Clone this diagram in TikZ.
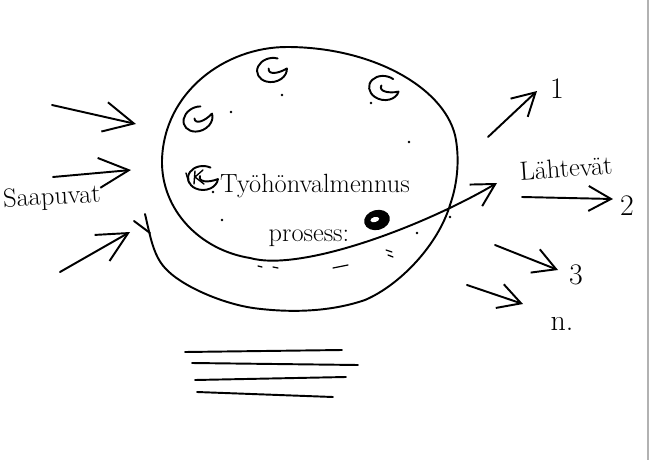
\documentclass[tikz,border=0pt]{standalone}
\usetikzlibrary{arrows.meta}
\begin{document}
\begin{tikzpicture}[x=0.02cm, y=-0.02cm,
    pen/.style={line width=1.1pt, line cap=round, line join=round},
    inflow/.style={pen, -{Straight Barb[length=6mm, width=6mm]}},
    outflow/.style={pen, -{Straight Barb[length=4.5mm, width=5mm]}},
    hand/.style={font=\fontsize{15}{18}\selectfont, inner sep=0pt},
    digit/.style={font=\fontsize{17}{20}\selectfont, inner sep=0pt},
    curl/.pic={
      \draw[pen] (-60:15 and 12)
        arc[start angle=-60, end angle=-355, x radius=15, y radius=12]
        .. controls (5,5) and (-5,4) .. (-3,-2);
    }]

  % Layout in scan pixels (650 x 460), y pointing down.

  \useasboundingbox (0,0) rectangle (650,460);
  % edge of the scanned sheet
  \draw[gray!60, line width=1pt] (648,0) -- (648,460);

  % --- Incoming arrows ---
  \coordinate (in1s) at (52,105);  \coordinate (in1e) at (136,124);
  \coordinate (in2s) at (53,177);  \coordinate (in2e) at (131,170);
  \coordinate (in3s) at (60,272);  \coordinate (in3e) at (130,232);
  \draw[inflow] (in1s) -- (in1e);
  \draw[inflow] (in2s) -- (in2e);
  \draw[inflow] (in3s) -- (in3e);
  \node[hand, rotate=3] (saapuvat) at (52,198) {Saapuvat};

  % --- The process loop ---
  % starts at the tick left of the oval, runs under it, up the right
  % side, over the top, down the left side and out to the right
  \coordinate (loopend) at (497,183);
  \draw[pen] (134,221) -- (150,233);
  \draw[outflow]
    (145,214) .. controls (150,235) and (153,255) .. (165,268)
    .. controls (180,285) and (220,303) .. (253,308)   % bottom
    .. controls (290,313) and (330,312) .. (365,300)
    .. controls (400,285) and (438,245) .. (450,205)   % right side
    .. controls (456,188) and (460,165) .. (456,140)
    .. controls (448,90) and (375,47) .. (287,47)      % top
    .. controls (225,47) and (164,92) .. (162,160)     % left side
    .. controls (161,210) and (200,250) .. (250,258)
    .. controls (300,272) and (420,228) .. (loopend);  % way out

  % workers inside
  \pic[rotate=10]  (g1) at (272,70)  {curl};
  \pic[rotate=-10] (g2) at (384,88)  {curl};
  \pic[rotate=25]  (g3) at (198,119) {curl};
  \pic[rotate=0]   (g4) at (203,178) {curl};
  \draw[pen, line width=0.8pt] (186,173) -- (189,183);
  \draw[pen, line width=0.8pt] (195,171) -- (194,184) (203,170) -- (195,177) -- (204,184);

  % specks
  \foreach \p in {(282,95), (231,112), (371,103), (409,142), (222,220),
                  (417,233), (450,217), (213,192)}
    \fill \p circle (1.3);
  \draw[pen, line width=0.7pt] (258,266) -- (262,267);
  \draw[pen, line width=0.7pt] (273,267) -- (278,268);
  \draw[pen, line width=0.7pt] (333,268) -- (348,265);
  \draw[pen, line width=0.7pt] (386,250) -- (392,252);
  \draw[pen, line width=0.7pt] (388,255) -- (393,257);

  \node[hand] (tyo) at (315,186) {Työhönvalmennus};
  \node[hand] (prosessi) at (309,238) {prosess:};
  \fill[rotate around={15:(377,220)}] (377,220) ellipse [x radius=13, y radius=10];
  \fill[white, rotate around={15:(377,220)}] (375,219) ellipse [x radius=4.5, y radius=2.5];

  % --- Outgoing arrows ---
  \node[hand, rotate=4] (lahtevat) at (566,168) {Lähtevät};
  \coordinate (out1s) at (488,137);  \coordinate (out1e) at (537,91);
  \coordinate (out2s) at (522,197);  \coordinate (out2e) at (613,199);
  \coordinate (out3s) at (495,245);  \coordinate (out3e) at (558,270);
  \coordinate (outns) at (467,285);  \coordinate (outne) at (523,304);
  \draw[outflow] (out1s) -- (out1e);
  \draw[outflow] (out2s) -- (out2e);
  \draw[outflow] (out3s) -- (out3e);
  \draw[outflow] (outns) -- (outne);
  \node[digit] (n1) at (557,89)  {1};
  \node[digit] (n2) at (627,206) {2};
  \node[digit] (n3) at (576,275) {3};
  \node[digit] (nn) at (562,324) {n.};

  % --- Lines below ---
  \draw[pen] (185,352) -- (342,350);
  \draw[pen] (192,363) -- (358,365);
  \draw[pen] (195,380) -- (346,377);
  \draw[pen] (197,392) -- (333,397);

\end{tikzpicture}
\end{document}
